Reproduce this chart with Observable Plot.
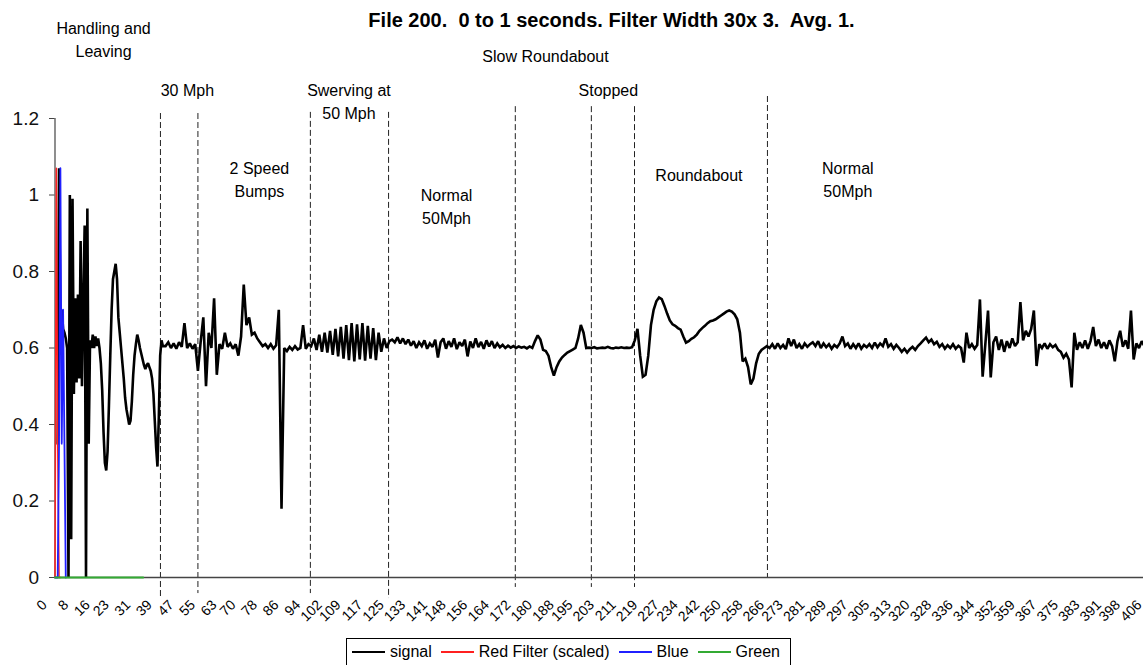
<!DOCTYPE html>
<html><head><meta charset="utf-8">
<script src="https://cdn.jsdelivr.net/npm/d3@7"></script>
<script src="https://cdn.jsdelivr.net/npm/@observablehq/plot@0.6"></script>
<style>
html,body{margin:0;padding:0;width:1143px;height:665px;overflow:hidden;background:#fff;}
#wrap{position:relative;width:1150px;height:665px;font-family:"Liberation Sans",Arial,sans-serif;}
#chart{position:absolute;left:0;top:0;}
#title{position:absolute;left:0;top:10px;width:1223px;text-align:center;font-weight:bold;font-size:20px;line-height:20px;white-space:pre;color:#000;}
#legend{position:absolute;left:346px;top:638px;width:445px;height:40px;border:1px solid #000;box-sizing:border-box;background:#fff;}
#legrow{position:absolute;left:5px;top:4.75px;height:16px;display:flex;align-items:center;white-space:nowrap;}
.sw{display:inline-block;width:33px;height:2px;margin-right:5px;}
.lt{display:inline-block;font-size:16px;line-height:16px;margin-right:9px;color:#000;}
</style></head>
<body><div id="wrap"><div id="chart"></div><div id="title"></div><div id="legend"><div id="legrow"></div></div></div>
<script>
const title = "File 200.  0 to 1 seconds. Filter Width 30x 3.  Avg. 1.";
const yTicks = [0, 0.2, 0.4, 0.6, 0.8, 1, 1.2];
const xTickLabels = [0,8,16,23,31,39,47,55,63,70,78,86,94,102,109,117,125,133,141,148,156,164,172,180,188,195,203,211,219,227,234,242,250,258,266,273,281,289,297,305,313,320,328,336,344,352,359,367,375,383,391,398,406];

// signal, first part sampled every 0.5 (x = 0 .. 40)
const earlyStep = 0.5;
const signalEarly = [
  null,null,.35,1.07,.66,.70,.65,.64,.625,.60,
  0,1.0,.10,.99,.48,.73,.51,.74,.52,.88,
  .50,.72,.92,0,.965,.35,.62,.60,.635,.60,
  .63,.605,.625,.60,.56,.49,.38,.30,.28,.33,
  .45,.58,.70,.78,.80,.82,.78,.68,.64,.60,
  .56,.52,.47,.44,.42,.40,.41,.46,.53,.58,
  .61,.635,.62,.60,.585,.57,.555,.545,.555,.56,
  .55,.54,.52,.48,.41,.34,.29,.42,.58,.62,
  .605
];
// signal, rest sampled every 1 (x = 41 .. 406)
const mainStart = 41;
const signalMain = [
  .605,.615,.60,.612,.598,.615,.603,.665,.60,.612,
  .598,.61,.54,.615,.68,.50,.64,.60,.73,.53,
  .61,.598,.64,.603,.612,.598,.61,.58,.63,.766,
  .66,.68,.635,.64,.625,.615,.605,.61,.60,.61,
  .598,.607,.70,.18,.60,.592,.603,.595,.605,.596,
  .60,.66,.598,.61,.605,.625,.595,.635,.59,.64,
  .588,.645,.582,.65,.578,.655,.572,.66,.568,.665,
  .565,.662,.57,.665,.567,.658,.572,.652,.568,.64,
  .59,.625,.60,.618,.622,.615,.628,.612,.625,.61,
  .622,.606,.618,.60,.615,.605,.62,.598,.612,.603,
  .622,.575,.615,.625,.598,.618,.603,.625,.597,.615,
  .605,.622,.578,.617,.60,.625,.602,.616,.598,.62,
  .604,.618,.60,.612,.602,.608,.60,.606,.601,.605,
  .60,.604,.601,.603,.599,.604,.60,.618,.633,.622,
  .595,.592,.58,.55,.528,.55,.565,.575,.582,.588,
  .592,.596,.60,.625,.66,.64,.60,.601,.60,.602,
  .599,.60,.601,.60,.603,.60,.599,.601,.60,.602,
  .60,.601,.60,.602,.62,.65,.58,.525,.53,.58,
  .66,.70,.722,.732,.728,.71,.69,.672,.662,.658,
  .652,.648,.63,.614,.618,.624,.628,.635,.645,.652,
  .658,.665,.67,.672,.675,.68,.685,.69,.695,.698,
  .695,.688,.675,.64,.565,.572,.55,.505,.52,.56,
  .585,.595,.60,.605,.60,.61,.598,.612,.60,.608,
  .597,.625,.605,.622,.60,.61,.598,.612,.603,.61,
  .615,.605,.618,.60,.612,.602,.61,.598,.608,.602,
  .612,.63,.605,.612,.598,.61,.60,.612,.598,.608,
  .602,.61,.60,.614,.602,.612,.605,.625,.603,.61,
  .598,.608,.60,.59,.598,.588,.597,.603,.595,.605,
  .612,.62,.627,.615,.622,.61,.616,.603,.61,.598,
  .607,.60,.61,.598,.606,.60,.562,.64,.60,.61,
  .598,.608,.727,.525,.61,.698,.523,.615,.63,.595,
  .622,.59,.618,.60,.625,.605,.615,.72,.62,.645,
  .63,.65,.698,.553,.61,.60,.612,.598,.61,.602,
  .608,.595,.59,.575,.585,.57,.497,.64,.595,.615,
  .60,.62,.598,.618,.655,.605,.622,.60,.615,.598,
  .62,.605,.565,.618,.645,.603,.62,.598,.698,.57,
  .612,.60,.618,.605,.612,.60
];
const redFilter = [0, 1.07, 0.35, 0, 0];
const blueSeries = [0, 0, 0, 0.35, 1.07, 0.35, 0.70, 0.35, 0];
const greenX = [0, 32.7];
const greenY = [0, 0];

const seriesNames = ["signal", "Red Filter (scaled)", "Blue", "Green"];
const seriesColors = ["#000000", "#ff2020", "#2020ff", "#33aa33"];

// hand-drawn dashed section markers
const markerX = [39.1, 53.0, 94.7, 123.7, 170.7, 198.9, 214.9, 264.2];
const markerTop = [1.213, 1.213, 1.216, 1.216, 1.231, 1.231, 1.231, 1.2575];
const markerBottom = [-0.052, -0.042, -0.042, -0.055, -0.026, -0.026, -0.026, 0];

const noteText = ["Handling and\nLeaving", "30 Mph", "Swerving at\n50 Mph", "2 Speed\nBumps", "Normal\n50Mph", "Slow Roundabout", "Stopped", "Roundabout", "Normal\n50Mph"];
const noteX = [18.0, 49.1, 109.0, 75.8, 145.2, 181.9, 205.2, 238.8, 294.0];
const noteY = [1.411, 1.279, 1.2486, 1.0447, 0.9728, 1.3663, 1.279, 1.0552, 1.0434];

const sig = [
  ...signalEarly.map((y, i) => ({x: i * earlyStep, y})),
  ...signalMain.map((y, i) => ({x: mainStart + i, y}))
];
const red = redFilter.map((y, i) => ({x: i * earlyStep, y}));
const blu = blueSeries.map((y, i) => ({x: i * earlyStep, y}));
const grn = greenX.map((x, i) => ({x, y: greenY[i]}));
const markers = markerX.map((x, i) => ({x, y1: markerTop[i], y2: markerBottom[i]}));
const notes = noteText.map((t, i) => ({t, x: noteX[i], y: noteY[i]}));

const chart = Plot.plot({
  width: 1150, height: 665,
  marginLeft: 54.5, marginRight: 0, marginTop: 118, marginBottom: 88,
  style: {fontFamily: "'Liberation Sans', Arial, sans-serif", background: "transparent", color: "#222", maxWidth: "none", overflow: "visible"},
  x: {domain: [0, 406.25], axis: null},
  y: {domain: [0, 1.2], axis: null, label: null},
  marks: [
    Plot.ruleX(markers, {x: "x", y1: "y1", y2: "y2", stroke: "#222", strokeWidth: 1, strokeDasharray: "6,3"}),
    Plot.ruleY([0], {stroke: "#444", strokeWidth: 1.5}),
    Plot.ruleX([0], {y1: () => 0, y2: () => 1.2, stroke: "#444", strokeWidth: 1.2}),
    Plot.axisY(yTicks, {tickSize: 5.5, tickPadding: 10.5, fontSize: 19, tickFormat: d => String(d), stroke: "#444", fill: "#111", label: null}),
    Plot.text(xTickLabels, {x: d => d, y: () => 0, text: d => String(d), rotate: -45, textAnchor: "end", lineAnchor: "middle", dx: -10.5, dy: 25, fontSize: 14, fill: "#000"}),
    Plot.line(sig, {x: "x", y: "y", stroke: seriesColors[0], strokeWidth: 2.6, strokeLinejoin: "miter", strokeMiterlimit: 2}),
    Plot.line(red, {x: "x", y: "y", stroke: seriesColors[1], strokeWidth: 1.5}),
    Plot.line(blu, {x: "x", y: "y", stroke: seriesColors[2], strokeWidth: 1.8}),
    Plot.line(grn, {x: "x", y: "y", stroke: seriesColors[3], strokeWidth: 2}),
    Plot.text(notes, {x: "x", y: "y", text: "t", fontSize: 16, lineHeight: 1.4375, fill: "#000"})
  ]
});
document.getElementById("chart").appendChild(chart);
document.getElementById("title").textContent = title;

const row = document.getElementById("legrow");
seriesNames.forEach((n, i) => {
  const sw = document.createElement("span");
  sw.className = "sw";
  sw.style.backgroundColor = seriesColors[i];
  const t = document.createElement("span");
  t.className = "lt";
  t.textContent = n;
  row.appendChild(sw);
  row.appendChild(t);
});
</script></body></html>
